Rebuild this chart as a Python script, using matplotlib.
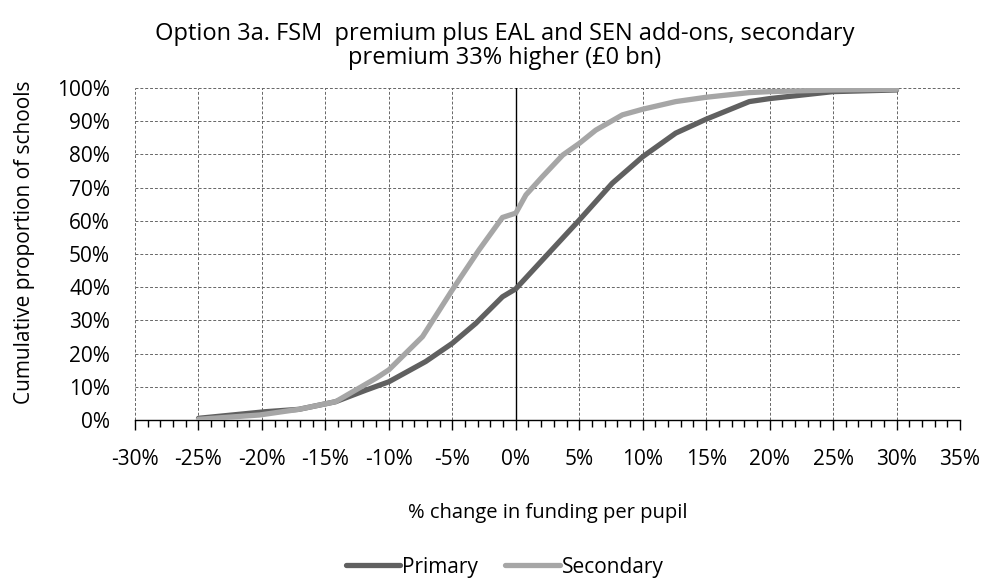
import matplotlib
matplotlib.use('Agg')
import matplotlib.pyplot as plt
from matplotlib.ticker import MultipleLocator, FuncFormatter

plt.rcParams['font.family'] = ['Open Sans', 'DejaVu Sans']

# cumulative distributions (x = % change, y = % of schools)
primary_x = [-25, -19.7, -17.1, -14.2, -11.8, -10, -7.1, -5, -3.15, -1.05, 0,
             2.1, 5, 7.6, 10, 12.6, 15, 18.4, 20, 25, 30]
primary_y = [0.5, 2.5, 3.2, 5.5, 9, 11.5, 17.6, 23.1, 29.1, 37.1, 39.5,
             48.2, 60.2, 71.3, 79.3, 86.4, 90.6, 95.9, 96.8, 98.9, 99.4]

secondary_x = [-25, -20.2, -17.1, -14.2, -11, -10, -7.35, -5, -2.9, -1.05, 0,
               0.8, 2.1, 3.7, 5, 6.3, 8.4, 10, 12.6, 15, 18.4, 20, 25, 30]
secondary_y = [0.2, 1.5, 3.2, 5.5, 12.6, 15.1, 25.1, 39.2, 51.2, 61, 62.3,
               67.8, 73.3, 79.8, 83.3, 87.3, 91.9, 93.6, 95.9, 97.2, 98.6, 98.9,
               99.4, 99.6]

title = 'Option 3a. FSM  premium plus EAL and SEN add-ons, secondary\npremium 33% higher (£0 bn)'

fig = plt.figure(figsize=(9.9, 5.78), dpi=100)
ax = fig.add_axes([0.1364, 0.2734, 0.8333, 0.5744])

ax.plot(primary_x, primary_y, color='#606060', lw=3.8, solid_capstyle='round',
        solid_joinstyle='round', label='Primary', zorder=3)
ax.plot(secondary_x, secondary_y, color='#a6a6a6', lw=3.8, solid_capstyle='round',
        solid_joinstyle='round', label='Secondary', zorder=4)

ax.set_xlim(-30, 35)
ax.set_ylim(0, 100)
ax.xaxis.set_major_locator(MultipleLocator(5))
ax.xaxis.set_minor_locator(MultipleLocator(1))
ax.yaxis.set_major_locator(MultipleLocator(10))
pct = FuncFormatter(lambda v, p: '%d%%' % round(v))
ax.xaxis.set_major_formatter(pct)
ax.yaxis.set_major_formatter(pct)

ax.grid(True, which='major', color='#666666', ls=(0, (3, 2)), lw=0.7)
ax.axvline(0, color='black', lw=1, zorder=2)
for s in ['top', 'right', 'left']:
    ax.spines[s].set_visible(False)
ax.spines['bottom'].set_linewidth(1)

ax.tick_params(axis='x', which='major', length=7, width=1, direction='out',
               pad=14, labelsize=15)
ax.tick_params(axis='x', which='minor', length=5, width=1, direction='out')
ax.tick_params(axis='y', length=0, pad=18, labelsize=15)

fig.suptitle(title, x=0.51, y=0.9625, va='top', fontsize=17, linespacing=1.0)
ax.set_ylabel('Cumulative proportion of schools', fontsize=15)
ax.yaxis.set_label_coords(-0.121, 0.536)
ax.set_xlabel('% change in funding per pupil', fontsize=14.5, labelpad=24)

fig.legend(loc='center', bbox_to_anchor=(0.51, 1 - 567 / 578), ncol=2,
           frameon=False, fontsize=15, handlelength=2.6, handletextpad=0.1,
           columnspacing=1.3)

fig.savefig('out.png', dpi=100)
